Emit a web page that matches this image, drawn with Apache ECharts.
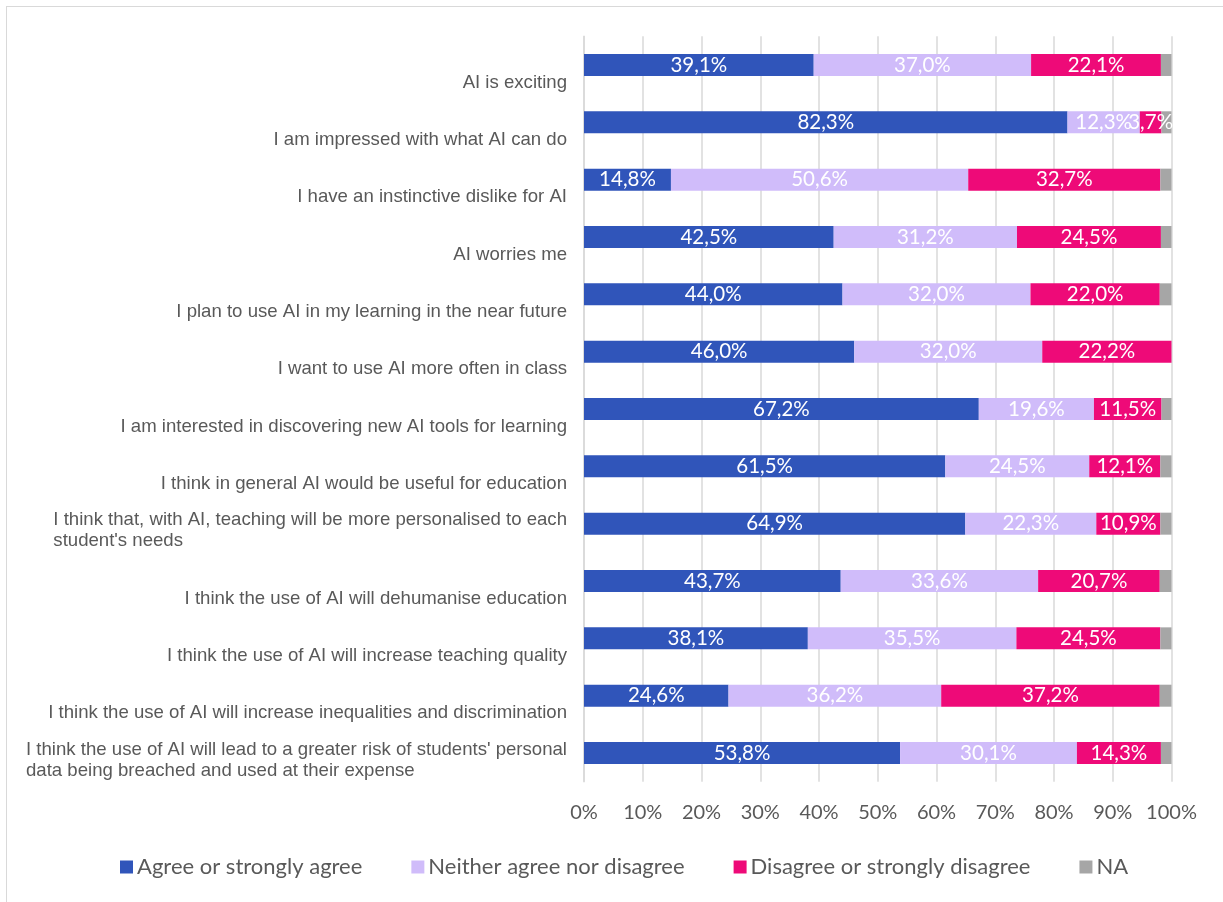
<!DOCTYPE html>
<html><head><meta charset="utf-8">
<script src="https://cdn.jsdelivr.net/npm/echarts@6/dist/echarts.min.js"></script>
<style>html,body{margin:0;padding:0;background:#fff;overflow:hidden;width:1223px;height:902px;}
#frame{position:absolute;left:6px;top:6px;width:1300px;height:1000px;border:1px solid #d9d9d9;box-sizing:border-box;}
#c{position:absolute;left:0;top:0;width:1223px;height:902px;}</style>
</head><body><div id="frame"></div><div id="c"></div>
<script>
const categories = [
  "AI is exciting",
  "I am impressed with what AI can do",
  "I have an instinctive dislike for AI",
  "AI worries me",
  "I plan to use AI in my learning in the near future",
  "I want to use AI more often in class",
  "I am interested in discovering new AI tools for learning",
  "I think in general AI would be useful for education",
  "I think that, with AI, teaching will be more personalised to each\nstudent's needs",
  "I think the use of AI will dehumanise education",
  "I think the use of AI will increase teaching quality",
  "I think the use of AI will increase inequalities and discrimination",
  "I think the use of AI will lead to a greater risk of students' personal\ndata being breached and used at their expense"
];
const agree    = [39.1, 82.3, 14.8, 42.5, 44.0, 46.0, 67.2, 61.5, 64.9, 43.7, 38.1, 24.6, 53.8];
const neither  = [37.0, 12.3, 50.6, 31.2, 32.0, 32.0, 19.6, 24.5, 22.3, 33.6, 35.5, 36.2, 30.1];
const disagree = [22.1, 3.7, 32.7, 24.5, 22.0, 22.2, 11.5, 12.1, 10.9, 20.7, 24.5, 37.2, 14.3];
const na       = [1.8, 1.7, 1.9, 1.8, 2.0, 0.0, 1.7, 1.9, 1.9, 2.0, 1.9, 2.0, 1.8];
const seriesNames = ["Agree or strongly agree", "Neither agree nor disagree", "Disagree or strongly disagree", "NA"];
const xTicks = [0, 10, 20, 30, 40, 50, 60, 70, 80, 90, 100];

const colors = ["#3055BA", "#D0BCFA", "#EE0A78", "#A6A6A6"];
const calib = "Lato, 'Open Sans', sans-serif";
const arial = "'Liberation Sans', Arial, sans-serif";
const LH = 21;
const fmt = p => p.value.toFixed(1).replace('.', ',') + '%';
const chart = echarts.init(document.getElementById('c'), null, {renderer: 'canvas'});
const mk = (name, data, i, label) => ({
  name, type: 'bar', stack: 'all', data, barWidth: 22,
  itemStyle: {color: colors[i]},
  label: label ? {show: true, position: 'inside', color: '#fff', fontFamily: calib, fontSize: 20.5, formatter: fmt} : {show: false},
  emphasis: {disabled: true}
});
chart.setOption({
  animation: false,
  color: colors,
  grid: {left: 584, width: 587.5, top: 36.3, height: 745.4, containLabel: false},
  legend: {
    top: 851, left: 115, itemWidth: 13, itemHeight: 13, itemGap: 49, icon: 'rect',
    textStyle: {fontFamily: calib, fontSize: 22, color: '#595959', padding: [0, 0, 0, -1]},
    data: seriesNames
  },
  xAxis: {
    type: 'value', min: 0, max: 100, interval: 10,
    axisLine: {show: false}, axisTick: {show: false},
    splitLine: {show: true, lineStyle: {color: '#d9d9d9', width: 1.5}},
    axisLabel: {margin: 21, fontFamily: calib, fontSize: 20, color: '#595959',
      formatter: v => xTicks.includes(v) ? v + '%' : ''}
  },
  yAxis: {
    type: 'category', inverse: true, data: categories,
    axisLine: {show: true, lineStyle: {color: '#d9d9d9', width: 1.5}},
    axisTick: {show: false},
    axisLabel: {margin: 17, fontFamily: arial, fontSize: 18.6, color: '#595959', lineHeight: LH,
      verticalAlign: 'middle',
      formatter: v => {
        const lines = v.split('\n');
        const sp = lines.length === 1 ? 'sa' : 'sb';
        return '{' + sp + '| }\n' + lines.map(s => '{l|' + s + '}').join('\n');
      },
      rich: {
        l: {align: 'left', fontFamily: arial, fontSize: 18.6, color: '#595959', lineHeight: LH},
        sa: {fontSize: 1, height: 35, lineHeight: 35},
        sb: {fontSize: 1, height: 14, lineHeight: 14}
      }
    }
  },
  series: [
    mk(seriesNames[0], agree, 0, true),
    mk(seriesNames[1], neither, 1, true),
    mk(seriesNames[2], disagree, 2, true),
    mk(seriesNames[3], na, 3, false)
  ]
});
</script></body></html>
